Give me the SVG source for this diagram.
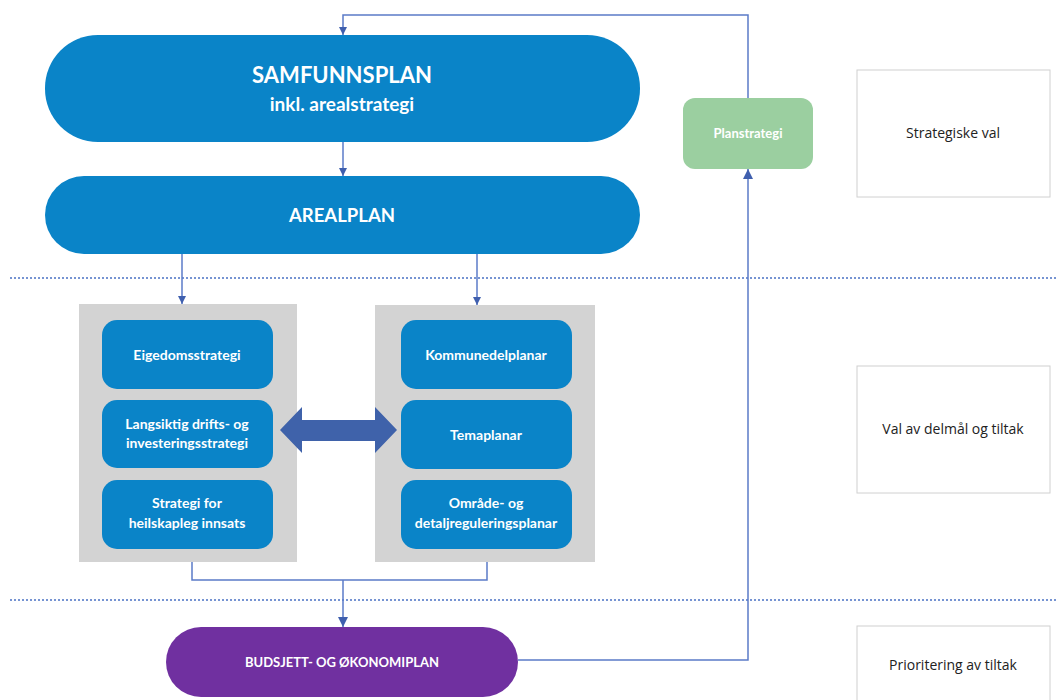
<svg xmlns="http://www.w3.org/2000/svg" width="1058" height="700" viewBox="0 0 1058 700">
<defs>
<style>
.pill{fill:#0A84C8}
.inner{fill:#0A84C8}
.gray{fill:#D3D3D3}
.wt{fill:#fff;font-family:Lato,"Open Sans",sans-serif;text-anchor:middle;font-weight:700}
.lbl{fill:#fff;font-family:Lato,"Open Sans",sans-serif;text-anchor:middle}
.side{fill:#fff;stroke:#D0D0D0;stroke-width:1}
.st{fill:#222;font-family:"Open Sans",Lato,sans-serif;font-size:14px;text-anchor:middle}
.con{fill:none;stroke:#5B7BC8;stroke-width:1.5}
.dot{stroke:#4A72C4;stroke-width:1.5;stroke-dasharray:2 2}
</style>
<marker id="ah" viewBox="0 0 10 10" refX="10" refY="5" markerWidth="8" markerHeight="8" markerUnits="userSpaceOnUse" orient="auto">
<path d="M0,0 L10,5 L0,10 z" fill="#3F5FAE"/>
</marker>
<marker id="ah2" viewBox="0 0 10 10" refX="10" refY="5" markerWidth="10" markerHeight="10" markerUnits="userSpaceOnUse" orient="auto">
<path d="M0,0 L10,5 L0,10 z" fill="#3F5FAE"/>
</marker>
</defs>

<g id="dividers">
<line class="dot" x1="10" y1="278" x2="1058" y2="278"/>
<line class="dot" x1="10" y1="600" x2="1058" y2="600"/>
</g>

<g id="samfunnsplan">
<rect class="pill" x="45" y="35" width="595" height="107" rx="53" ry="53"/>
<text class="wt" x="342" y="83" font-size="22">SAMFUNNSPLAN</text>
<text class="wt" x="342" y="111" font-size="19">inkl. arealstrategi</text>
</g>

<g id="arealplan">
<rect class="pill" x="45" y="176" width="595" height="78" rx="39" ry="39"/>
<text class="wt" x="342" y="222" font-size="18.5">AREALPLAN</text>
</g>

<g id="planstrategi">
<rect x="683" y="98" width="130" height="71" rx="12" ry="12" fill="#9BCFA0"/>
<text class="wt" x="748" y="138" font-size="13">Planstrategi</text>
</g>

<g id="side-strategiske">
<rect class="side" x="857" y="70" width="193" height="127"/>
<text class="st" x="953" y="138">Strategiske val</text>
</g>
<g id="side-val">
<rect class="side" x="857" y="366" width="193" height="127"/>
<text class="st" x="953" y="434">Val av delmål og tiltak</text>
</g>
<g id="side-prioritering">
<rect class="side" x="857" y="626" width="193" height="90"/>
<text class="st" x="953" y="670">Prioritering av tiltak</text>
</g>

<g id="left-group">
<rect class="gray" x="79" y="304" width="218" height="258"/>
</g>
<g id="right-group">
<rect class="gray" x="375" y="305" width="220" height="257"/>
</g>

<g id="eigedomsstrategi">
<rect class="inner" x="102" y="320" width="171" height="69" rx="15"/>
<text class="wt" x="187" y="360" font-size="14">Eigedomsstrategi</text>
</g>
<g id="langsiktig">
<rect class="inner" x="102" y="400" width="171" height="68" rx="15"/>
<text class="wt" x="187" y="429" font-size="14">Langsiktig drifts- og</text>
<text class="wt" x="187" y="448" font-size="14">investeringsstrategi</text>
</g>
<g id="heilskapleg">
<rect class="inner" x="102" y="480" width="171" height="69" rx="15"/>
<text class="wt" x="187" y="508" font-size="14">Strategi for</text>
<text class="wt" x="187" y="528" font-size="14">heilskapleg innsats</text>
</g>
<g id="kommunedelplanar">
<rect class="inner" x="401" y="320" width="171" height="69" rx="15"/>
<text class="wt" x="486" y="360" font-size="14">Kommunedelplanar</text>
</g>
<g id="temaplanar">
<rect class="inner" x="401" y="400" width="171" height="69" rx="15"/>
<text class="wt" x="486" y="440" font-size="14">Temaplanar</text>
</g>
<g id="omrade">
<rect class="inner" x="401" y="480" width="171" height="69" rx="15"/>
<text class="wt" x="486" y="508" font-size="14">Område- og</text>
<text class="wt" x="486" y="528" font-size="14">detaljreguleringsplanar</text>
</g>

<g id="budsjett">
<rect x="166" y="627" width="352" height="70" rx="35" fill="#7030A0"/>
<text class="wt" x="342" y="667" font-size="13">BUDSJETT- OG ØKONOMIPLAN</text>
</g>

<g id="connectors">
<path class="con" d="M748,98 V15 H343 V35" marker-end="url(#ah)"/>
<path class="con" d="M343,142 V176" marker-end="url(#ah)"/>
<path class="con" d="M182,254 V304" marker-end="url(#ah)"/>
<path class="con" d="M477,254 V305" marker-end="url(#ah)"/>
<path class="con" d="M192,562 V580 H487 V562"/>
<path class="con" d="M343,580 V627" marker-end="url(#ah2)"/>
<path class="con" d="M518,660 H748 V169" marker-end="url(#ah2)"/>
<path d="M280,430 L302,407 L302,420 L375,420 L375,407 L397,430 L375,453 L375,441 L302,441 L302,453 Z" fill="#3F62AA"/>
</g>
</svg>
